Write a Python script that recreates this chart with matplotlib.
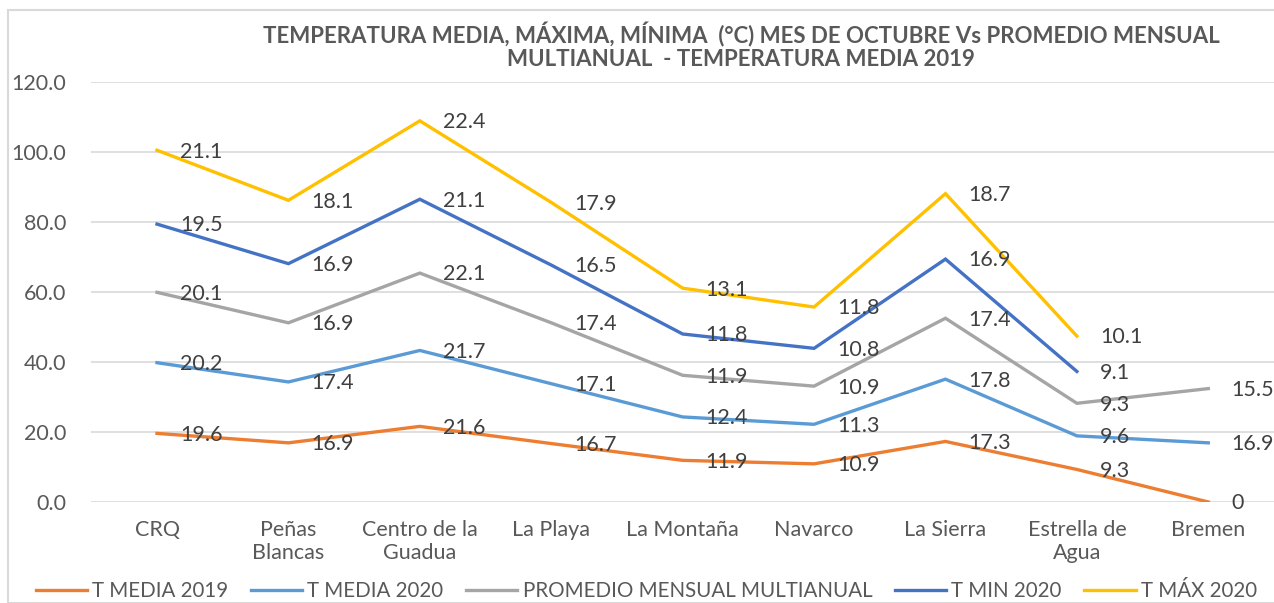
import numpy as np
import matplotlib
matplotlib.use("Agg")
import matplotlib.pyplot as plt
from matplotlib.patches import Rectangle

categories = ["CRQ", "Peñas\nBlancas", "Centro de la\nGuadua", "La Playa", "La Montaña",
              "Navarco", "La Sierra", "Estrella de\nAgua", "Bremen"]
t_media_2019 = [19.6, 16.9, 21.6, 16.7, 11.9, 10.9, 17.3, 9.3, 0]
t_media_2020 = [20.2, 17.4, 21.7, 17.1, 12.4, 11.3, 17.8, 9.6, 16.9]
promedio = [20.1, 16.9, 22.1, 17.4, 11.9, 10.9, 17.4, 9.3, 15.5]
t_min_2020 = [19.5, 16.9, 21.1, 16.5, 11.8, 10.8, 16.9, 9.1, None]
t_max_2020 = [21.1, 18.1, 22.4, 17.9, 13.1, 11.8, 18.7, 10.1, None]
series_names = ["T MEDIA 2019", "T MEDIA 2020", "PROMEDIO MENSUAL MULTIANUAL", "T MIN 2020", "T MÁX 2020"]
colors = ["#ED7D31", "#5B9BD5", "#A5A5A5", "#4472C4", "#FFC000"]
yticks = [0, 20, 40, 60, 80, 100, 120]

plt.rcParams['font.family'] = ['Lato', 'DejaVu Sans']
txt = "#595959"

fig = plt.figure(figsize=(12.74, 6.03), dpi=100)
fig.patches.append(Rectangle((8/1274, 0), 1.2, 1 - 10/603, transform=fig.transFigure,
                             fill=False, edgecolor="#D9D9D9", linewidth=1.5))
ax = fig.add_axes([91.3/1274, 1 - 502/603, (1274 - 91.3)/1274, (502 - 82)/603])

x = np.arange(len(categories))
data = [t_media_2019, t_media_2020, promedio, t_min_2020, t_max_2020]
cum = np.zeros(len(categories))
for vals, name, c in zip(data, series_names, colors):
    v = np.array([np.nan if a is None else a for a in vals], dtype=float)
    cum = cum + v
    ax.plot(x, cum, color=c, lw=2.4, label=name, solid_joinstyle="miter", zorder=3)
    for xi, yi, vi in zip(x, cum, v):
        if np.isnan(vi):
            continue
        ax.annotate(f"{vi:g}", (xi, yi), xytext=(16.5, -1), textcoords="offset points",
                    ha="left", va="center", fontsize=15.5, color="#404040", zorder=4,
                    annotation_clip=False)

ax.set_xlim(-0.5, len(categories) - 0.5)
ax.set_ylim(0, 120)
ax.set_yticks(yticks)
ax.set_yticklabels([f"{t:.1f}" for t in yticks])
ax.set_xticks(x)
ax.set_xticklabels(categories)
ax.tick_params(axis="both", length=0, labelsize=15.5, colors=txt)
ax.tick_params(axis="x", pad=13)
ax.tick_params(axis="y", pad=18)
for s in ax.spines.values():
    s.set_visible(False)
ax.grid(axis="y", color="#D9D9D9", lw=1.2)
ax.set_axisbelow(True)

fig.text(741/1274, 1 - 35/603, "TEMPERATURA MEDIA, MÁXIMA, MÍNIMA  (°C) MES DE OCTUBRE Vs PROMEDIO MENSUAL",
         ha="center", va="center", fontsize=16, fontweight="bold", color=txt)
fig.text(741/1274, 1 - 60/603, "MULTIANUAL  - TEMPERATURA MEDIA 2019",
         ha="center", va="center", fontsize=16, fontweight="bold", color=txt)

fig.legend(loc="center left", bbox_to_anchor=(17/1274, 1 - 591/603), ncol=5, frameon=False,
           fontsize=14.8, handlelength=2.5, columnspacing=1.1, handletextpad=0.25,
           labelcolor=txt)

fig.savefig("out.png", dpi=100)
